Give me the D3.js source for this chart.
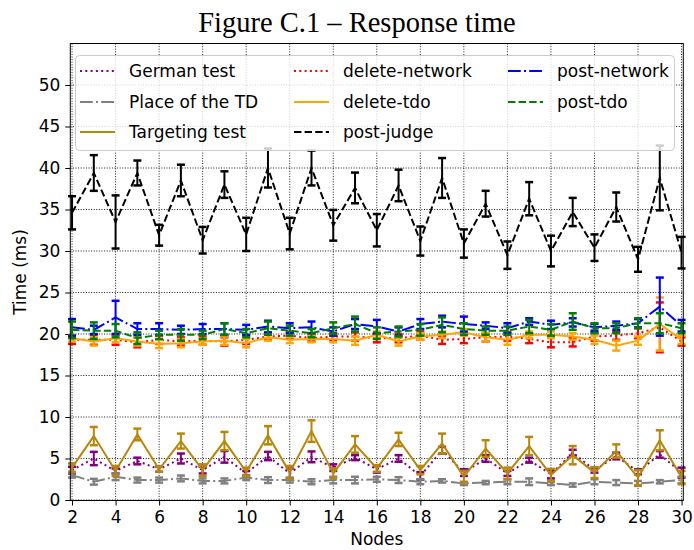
<!DOCTYPE html>
<html>
<head>
<meta charset="utf-8">
<script src="https://cdn.jsdelivr.net/npm/d3@7"></script>
<style>
  body { margin: 0; background: #fff; }
  text { font-family: "DejaVu Sans", sans-serif; }
</style>
</head>
<body>
<div id="chart"></div>
<script>
const width = 694;
const height = 550;
const margin = ({top: 43.5, right: 10.7, bottom: 49.5, left: 70.3});

// x categories
const nodes = [2, 3, 4, 5, 6, 7, 8, 9, 10, 11, 12, 13, 14, 15, 16, 17, 18, 19, 20, 21, 22, 23, 24, 25, 26, 27, 28, 29, 30];
const xTicks = [2, 4, 6, 8, 10, 12, 14, 16, 18, 20, 22, 24, 26, 28, 30];
const yTicks = [0, 5, 10, 15, 20, 25, 30, 35, 40, 45, 50];

// mean response time (ms) and error half-width per node
const germanMean = [3.6, 5.0, 3.5, 4.7, 3.7, 5.0, 3.6, 5.2, 3.2, 5.3, 3.2, 5.2, 3.9, 5.1, 3.7, 5.0, 2.9, 6.0, 3.3, 5.0, 3.2, 4.8, 3.1, 5.7, 3.6, 5.3, 3.4, 5.5, 3.3];
const germanErr  = [0.4, 0.8, 0.3, 0.4, 0.3, 0.6, 0.4, 0.7, 0.3, 0.5, 0.6, 0.65, 0.4, 0.3, 0.4, 0.4, 0.45, 0.4, 0.4, 0.4, 0.3, 0.3, 0.5, 0.35, 0.3, 0.4, 0.3, 0.4, 0.6];

const placeMean = [3.0, 2.2, 2.8, 2.4, 2.4, 2.6, 2.3, 2.3, 2.7, 2.4, 2.4, 2.2, 2.4, 2.4, 2.5, 2.4, 2.2, 2.3, 2.0, 2.1, 2.2, 2.2, 2.0, 1.8, 2.2, 2.1, 2.0, 2.2, 2.4];
const placeErr  = [0.3, 0.35, 0.4, 0.3, 0.3, 0.35, 0.3, 0.3, 0.3, 0.35, 0.3, 0.3, 0.4, 0.4, 0.3, 0.35, 0.3, 0.2, 0.2, 0.2, 0.3, 0.4, 0.2, 0.2, 0.3, 0.3, 0.3, 0.2, 0.4];

const targetingMean = [3.9, 7.7, 3.5, 7.9, 3.7, 7.1, 3.6, 7.1, 3.4, 7.8, 3.3, 8.3, 3.2, 6.7, 3.8, 7.3, 3.6, 6.8, 2.8, 6.2, 3.2, 6.5, 3.0, 5.4, 3.3, 5.9, 2.7, 7.2, 2.7];
const targetingErr  = [0.5, 1.1, 0.6, 0.7, 0.3, 0.9, 0.7, 1.1, 0.5, 1.1, 0.8, 1.3, 0.6, 1.0, 0.4, 0.8, 0.5, 1.2, 0.7, 1.0, 0.7, 1.1, 0.75, 1.1, 0.65, 0.8, 0.9, 1.2, 0.8];

const delNetMean = [19.3, 19.3, 19.3, 19.0, 19.3, 19.1, 19.2, 19.1, 19.3, 19.7, 19.8, 19.5, 19.7, 19.7, 19.5, 19.5, 19.8, 19.3, 19.4, 19.6, 19.7, 19.4, 19.0, 19.0, 19.7, 19.8, 20.1, 20.8, 19.1];
const delNetErr  = [0.5, 0.6, 0.6, 0.6, 0.5, 0.5, 0.5, 0.5, 0.5, 0.4, 0.4, 0.4, 0.4, 0.5, 0.5, 0.5, 0.5, 0.5, 0.5, 0.5, 0.5, 0.5, 0.6, 0.5, 0.5, 0.5, 0.6, 3.0, 0.5];

const delTdoMean = [19.5, 19.1, 19.5, 19.1, 18.8, 18.9, 19.1, 19.2, 18.9, 19.6, 19.3, 19.4, 19.4, 19.2, 19.9, 19.1, 19.7, 19.9, 20.2, 19.6, 19.3, 19.9, 19.9, 19.7, 19.3, 18.6, 19.2, 21.2, 19.3];
const delTdoErr  = [0.4, 0.5, 0.5, 0.5, 0.5, 0.5, 0.4, 0.5, 0.5, 0.4, 0.4, 0.4, 0.4, 0.5, 0.4, 0.5, 0.4, 0.4, 0.4, 0.5, 0.6, 0.4, 0.4, 0.4, 0.5, 0.6, 0.5, 3.2, 0.5];

const judgeMean = [34.6, 39.4, 33.5, 39.4, 31.9, 38.5, 31.3, 38.0, 32.0, 40.0, 32.1, 40.0, 33.1, 37.6, 32.5, 37.9, 31.2, 38.8, 30.9, 35.7, 29.5, 36.3, 30.0, 34.7, 30.4, 35.3, 29.0, 38.8, 29.8];
const judgeErr  = [2.0, 2.15, 3.2, 1.5, 1.25, 1.9, 1.6, 1.6, 2.0, 2.35, 1.9, 2.1, 1.85, 1.85, 1.95, 1.9, 1.75, 2.4, 1.7, 1.55, 1.65, 2.0, 1.85, 1.7, 1.6, 1.75, 1.5, 3.9, 1.9];

const postNetMean = [20.8, 20.5, 22.0, 20.6, 20.6, 20.5, 20.6, 20.6, 20.5, 20.9, 20.7, 20.8, 20.3, 21.2, 20.9, 20.3, 21.2, 21.5, 21.2, 21.0, 20.7, 21.5, 21.1, 21.4, 20.8, 21.0, 21.3, 23.3, 21.0];
const postNetErr  = [1.0, 0.5, 2.0, 0.7, 0.7, 0.5, 0.6, 0.7, 0.6, 0.7, 0.6, 0.7, 0.5, 0.6, 0.8, 0.5, 0.6, 0.7, 0.9, 0.4, 0.6, 0.4, 0.5, 0.5, 0.4, 0.5, 0.5, 3.5, 0.7];

const postTdoMean = [20.5, 20.4, 20.4, 19.5, 19.9, 19.9, 19.9, 20.6, 20.1, 20.7, 20.4, 20.1, 20.7, 21.2, 20.1, 20.3, 20.5, 21.1, 20.6, 20.4, 20.4, 20.9, 20.5, 21.5, 20.7, 20.7, 21.3, 21.3, 20.7];
const postTdoErr  = [1.0, 1.0, 0.8, 0.7, 0.5, 0.7, 0.5, 0.7, 0.5, 0.8, 0.6, 0.5, 0.7, 0.9, 0.7, 0.6, 0.7, 0.9, 0.7, 0.5, 0.5, 0.8, 0.7, 1.0, 0.6, 0.6, 0.6, 1.2, 0.6];

const series = [
  {name: 'German test',     mean: germanMean,    err: germanErr,    color: '#800080', dash: '2,3.3'},
  {name: 'Place of the TD', mean: placeMean,     err: placeErr,     color: '#808080', dash: '12.8,3.2,2,3.2'},
  {name: 'Targeting test',  mean: targetingMean, err: targetingErr, color: '#b8860b', dash: null},
  {name: 'delete-network',  mean: delNetMean,    err: delNetErr,    color: '#ff0000', dash: '2,3.3'},
  {name: 'delete-tdo',      mean: delTdoMean,    err: delTdoErr,    color: '#ffa500', dash: null},
  {name: 'post-judge',      mean: judgeMean,     err: judgeErr,     color: '#000000', dash: '7.4,3.2'},
  {name: 'post-network',    mean: postNetMean,   err: postNetErr,   color: '#0000ff', dash: '12.8,3.2,2,3.2'},
  {name: 'post-tdo',        mean: postTdoMean,   err: postTdoErr,   color: '#008000', dash: '7.4,3.2'}
];

const svg = d3.select('#chart')
              .append('svg')
              .attr('width', width)
              .attr('height', height);

const x = d3.scaleLinear()
            .domain([1.92, 30.08])
            .range([margin.left, width - margin.right]);
const y = d3.scaleLinear()
            .domain([0, 55])
            .range([500, margin.top]);

const plotBottom = height - margin.bottom;

// title
svg.append('text')
   .attr('x', 357)
   .attr('y', 31.5)
   .attr('text-anchor', 'middle')
   .style('font-family', '"Liberation Serif", serif')
   .style('font-size', '28.5px')
   .text('Figure C.1 \u2013 Response time');

// grid
const grid = svg.append('g');
grid.selectAll('.gx')
    .data(xTicks)
    .join('line')
    .attr('x1', d => x(d)).attr('x2', d => x(d))
    .attr('y1', margin.top).attr('y2', plotBottom)
    .attr('stroke', '#000').attr('stroke-width', 0.9)
    .attr('stroke-dasharray', '1,1.6');
grid.selectAll('.gy')
    .data(yTicks)
    .join('line')
    .attr('x1', margin.left).attr('x2', width - margin.right)
    .attr('y1', d => y(d)).attr('y2', d => y(d))
    .attr('stroke', '#000').attr('stroke-width', 0.9)
    .attr('stroke-dasharray', '1,1.6');

// axes
const xAxis = g => g
  .attr('transform', `translate(0,${plotBottom})`)
  .call(d3.axisBottom(x).tickValues(xTicks).tickSize(5).tickPadding(5))
  .call(g => g.select('.domain').remove())
  .call(g => g.selectAll('text').style('font-size', '17px').attr('fill', '#000'));

const yAxis = g => g
  .attr('transform', `translate(${margin.left},0)`)
  .call(d3.axisLeft(y).tickValues(yTicks).tickSize(5).tickPadding(5))
  .call(g => g.select('.domain').remove())
  .call(g => g.selectAll('text').style('font-size', '17px').attr('fill', '#000'));

svg.append('g').call(xAxis);
svg.append('g').call(yAxis);

svg.append('text')
   .attr('x', (margin.left + width - margin.right) / 2)
   .attr('y', 545)
   .attr('text-anchor', 'middle')
   .style('font-size', '17px')
   .text('Nodes');

svg.append('text')
   .attr('transform', `translate(26,${(margin.top + plotBottom) / 2}) rotate(-90)`)
   .attr('text-anchor', 'middle')
   .style('font-size', '17px')
   .text('Time (ms)');

// data
const plot = svg.append('g');
const line = d3.line()
               .x(d => x(d.n))
               .y(d => y(d.v));

series.forEach(s => {
  const pts = nodes.map((n, i) => ({n: n, v: s.mean[i], e: s.err[i]}));
  const g = plot.append('g');
  g.append('path')
   .datum(pts)
   .attr('d', line)
   .attr('fill', 'none')
   .attr('stroke', s.color)
   .attr('stroke-width', 2)
   .attr('stroke-dasharray', s.dash);
  g.selectAll('.bar')
   .data(pts)
   .join('line')
   .attr('x1', d => x(d.n)).attr('x2', d => x(d.n))
   .attr('y1', d => y(d.v - d.e)).attr('y2', d => y(d.v + d.e))
   .attr('stroke', s.color)
   .attr('stroke-width', 2);
  [-1, 1].forEach(sign => {
    g.selectAll('.cap' + sign)
     .data(pts)
     .join('line')
     .attr('x1', d => x(d.n) - 4).attr('x2', d => x(d.n) + 4)
     .attr('y1', d => y(d.v + sign * d.e)).attr('y2', d => y(d.v + sign * d.e))
     .attr('stroke', s.color)
     .attr('stroke-width', 2.5);
  });
});

// frame
svg.append('rect')
   .attr('x', margin.left).attr('y', margin.top)
   .attr('width', width - margin.right - margin.left)
   .attr('height', plotBottom - margin.top)
   .attr('fill', 'none')
   .attr('stroke', '#000')
   .attr('stroke-width', 1);

// legend
const legend = svg.append('g');
legend.append('rect')
      .attr('x', 75.5).attr('y', 55.5)
      .attr('width', 599).attr('height', 95)
      .attr('rx', 4)
      .attr('fill', '#fff').attr('fill-opacity', 0.8)
      .attr('stroke', '#ccc');

const legendCols = [80, 294, 508];
const legendRows = [71, 102, 132];
const legendItems = legend.selectAll('.item')
  .data(series)
  .join('g')
  .attr('transform', (d, i) => `translate(${legendCols[Math.floor(i / 3)]},${legendRows[i % 3]})`);

legendItems.append('line')
  .attr('x1', 0).attr('x2', 35)
  .attr('stroke', d => d.color)
  .attr('stroke-width', 2)
  .attr('stroke-dasharray', d => d.dash);

legendItems.append('text')
  .attr('x', 49)
  .attr('y', 6)
  .style('font-size', '17px')
  .text(d => d.name);
</script>
</body>
</html>
